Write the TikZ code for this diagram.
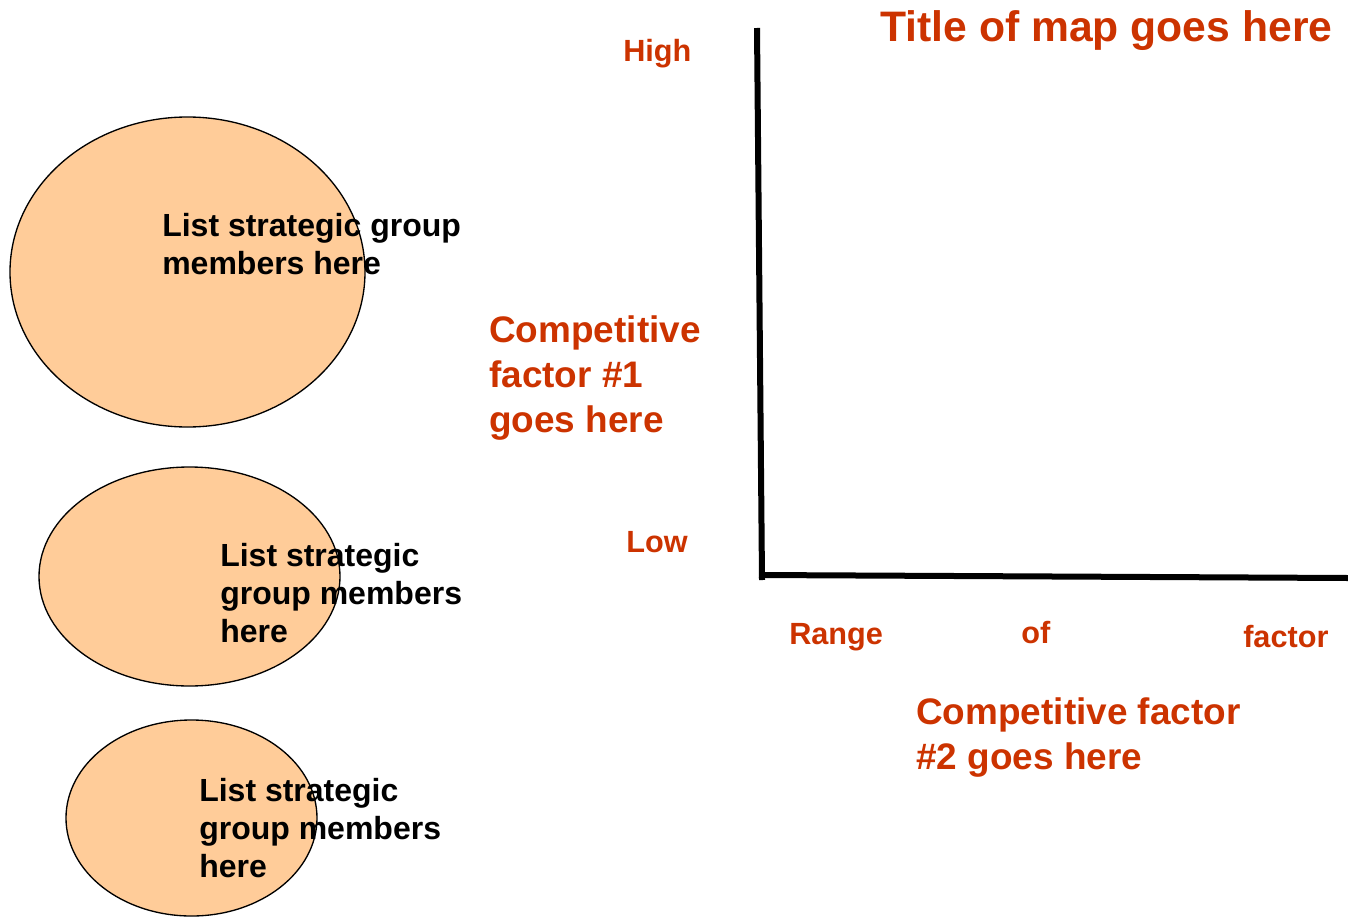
\documentclass[tikz,border=0pt]{standalone}
\usepackage{fontspec}
\setmainfont{Liberation Sans}
\usepackage{xcolor}
\usetikzlibrary{positioning}
\definecolor{maprust}{RGB}{204,51,0}
\definecolor{grouppeach}{RGB}{255,204,153}

\begin{document}
\begin{tikzpicture}[
  x=0.75pt, y=-0.75pt,
  groupoval/.style={draw=black, line width=1pt, fill=grouppeach},
  members/.style={anchor=north west, inner sep=0pt, align=left, font=\fontsize{24}{28.5}\selectfont\bfseries},
  factortext/.style={anchor=north west, inner sep=0pt, align=left, text=maprust, font=\fontsize{27.7}{33.8}\selectfont\bfseries},
  ticktext/.style={anchor=north west, inner sep=0pt, text=maprust, font=\fontsize{23}{27}\selectfont\bfseries},
  axisline/.style={line width=4.5pt, black}
]
\useasboundingbox (0,0) rectangle (1348,917);

%% Strategic groups
\draw[groupoval] (187.5,272) ellipse (177.5 and 155);
\draw[groupoval] (189.5,576.5) ellipse (150.5 and 109.5);
\draw[groupoval] (191.5,818) ellipse (125.5 and 98);
\node[members] (grp1) at (162,213) {List strategic group\\members here};
\node[members] (grp2) at (220,543) {List strategic\\group members\\here};
\node[members] (grp3) at (199,778) {List strategic\\group members\\here};

%% Map axes
\coordinate (ytop) at (757,28);
\coordinate (ybot) at (762,580);
\coordinate (xleft) at (759,575);
\coordinate (xright) at (1348,578);
\draw[axisline] (ytop) -- (ybot);
\draw[axisline] (xleft) -- (xright);

%% Title and axis labels
\node[anchor=north west, inner sep=0pt, text=maprust, font=\fontsize{32}{38}\selectfont\bfseries] (title) at (880,10) {Title of map goes here};
\node[ticktext] (high) at (623,39) {High};
\node[ticktext] (low) at (626,531) {Low};
\node[factortext] (factor1) at (489,315) {Competitive\\factor \#1\\goes here};
\node[ticktext] (range) at (789,623) {Range};
\node[ticktext] (of) at (1021,621) {of};
\node[ticktext] (factor) at (1243,625) {factor};
\node[factortext] (factor2) at (916,697) {Competitive factor\\\#2 goes here};
\end{tikzpicture}
\end{document}
